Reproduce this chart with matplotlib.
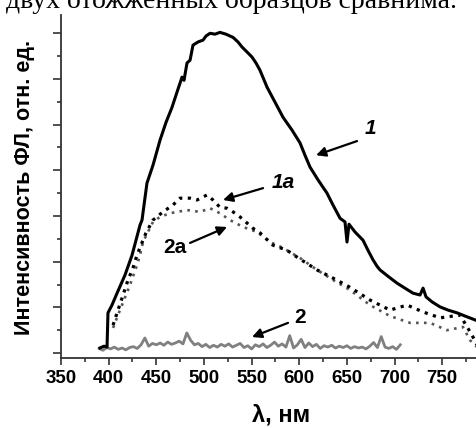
import numpy as np
import matplotlib
matplotlib.use("Agg")
import matplotlib.pyplot as plt
from matplotlib.ticker import MultipleLocator, NullFormatter

# curve 1 (black solid)
wl_1 = [390.9, 395.1, 398.3, 399.3, 403.5, 408.8, 417.2, 424.5, 432.9, 435.0,
        440.2, 446.5, 453.9, 460.2, 466.5, 471.7, 477.0, 479.1, 482.2, 485.4,
        488.5, 493.8, 499.0, 502.2, 506.4, 511.6, 516.8, 523.1, 530.5, 535.7,
        539.9, 545.2, 550.4, 554.6, 558.8, 566.2, 574.6, 583.0, 592.4, 600.8,
        606.0, 611.3, 619.7, 629.1, 635.4, 642.8, 648.0, 650.1, 652.2, 658.5,
        666.9, 672.1, 677.4, 681.6, 684.7, 693.1, 702.6, 710.9, 719.4, 726.7,
        729.9, 733.0, 739.3, 747.7, 756.1, 765.5, 773.9, 790.0]
int_1 = [0.11, 0.15, 0.13, 0.88, 1.05, 1.31, 1.71, 2.14, 2.80, 2.91,
         3.72, 4.11, 4.66, 5.05, 5.38, 5.71, 6.04, 5.97, 6.35, 6.41,
         6.74, 6.81, 6.85, 6.94, 7.00, 6.98, 7.02, 6.98, 6.91, 6.81,
         6.70, 6.59, 6.48, 6.35, 6.19, 5.82, 5.49, 5.16, 4.88, 4.60,
         4.33, 4.07, 3.79, 3.50, 3.24, 2.95, 2.87, 2.43, 2.82, 2.65,
         2.47, 2.25, 2.04, 1.90, 1.82, 1.68, 1.53, 1.42, 1.31, 1.27,
         1.42, 1.23, 1.12, 1.01, 0.94, 0.88, 0.81, 0.68]

# curve 1a (black dots)
wl_1a = [404.6, 409.8, 414.0, 420.3, 425.5, 429.7, 433.9, 439.2, 446.5, 457.0,
         467.5, 474.9, 485.4, 492.7, 503.2, 509.5, 516.8, 524.2, 530.5, 537.8,
         551.5, 558.8, 572.5, 587.1, 597.6, 618.6, 635.4, 653.2, 674.2, 695.2,
         713.1, 729.8, 747.7, 768.7, 781.3, 786.5]
int_1a = [0.61, 0.94, 1.20, 1.60, 1.86, 2.14, 2.36, 2.63, 2.91, 3.09,
          3.24, 3.39, 3.39, 3.35, 3.46, 3.35, 3.19, 3.17, 3.09, 2.98,
          2.73, 2.63, 2.36, 2.25, 2.10, 1.82, 1.64, 1.44, 1.16, 0.94,
          1.05, 0.90, 0.77, 0.83, 0.39, 0.18]

# curve 2a (grey dots)
wl_2a = [404.6, 409.8, 416.1, 422.4, 428.7, 432.9, 436.0, 446.5, 453.9, 464.4,
         482.2, 495.9, 506.3, 516.8, 527.3, 541.0, 555.7, 569.3, 582.9, 600.8,
         618.6, 635.4, 653.2, 674.2, 695.2, 716.2, 737.2, 755.0, 771.8, 779.2,
         786.5]
int_2a = [0.55, 0.83, 1.16, 1.49, 1.86, 2.14, 2.43, 2.87, 2.98, 3.06,
          3.13, 3.09, 3.17, 3.06, 2.91, 2.76, 2.65, 2.43, 2.30, 2.08,
          1.82, 1.60, 1.38, 1.05, 0.81, 0.66, 0.66, 0.50, 0.57, 0.28,
          0.13]

# curve 2 (grey solid, noise level)
wl_2 = np.arange(390, 707, 4)
int_2 = [0.10, 0.06, 0.12, 0.09, 0.13, 0.08, 0.11, 0.07, 0.12, 0.14,
         0.10, 0.18, 0.33, 0.15, 0.21, 0.18, 0.22, 0.17, 0.24, 0.19,
         0.22, 0.26, 0.20, 0.44, 0.28, 0.18, 0.21, 0.14, 0.19, 0.12,
         0.17, 0.13, 0.19, 0.15, 0.20, 0.13, 0.17, 0.21, 0.12, 0.16,
         0.09, 0.18, 0.14, 0.20, 0.12, 0.17, 0.24, 0.15, 0.20, 0.13,
         0.38, 0.11, 0.18, 0.30, 0.12, 0.22, 0.14, 0.19, 0.10, 0.16,
         0.13, 0.17, 0.11, 0.15, 0.12, 0.16, 0.10, 0.14, 0.11, 0.13,
         0.09, 0.15, 0.23, 0.12, 0.36, 0.13, 0.10, 0.14, 0.08, 0.18]

# labels: (text, x, y, arrow tail x, y, arrow head x, y)
labels = [("1", 674.2, 4.92, 660.6, 4.64, 617.6, 4.33, "italic"),
          ("1a", 582.9, 3.74, 562.0, 3.61, 520.0, 3.35, "italic"),
          ("2a", 469.6, 2.32, 485.4, 2.41, 524.2, 2.76, "normal"),
          ("2", 600.8, 0.77, 588.2, 0.66, 550.4, 0.35, "normal")]

W, H = 477, 428
fig = plt.figure(figsize=(W / 100, H / 100), dpi=100)
ax = fig.add_axes([61 / W, 1 - 357.5 / H, 1 - 61 / W, (357.5 - 15) / H])

ax.plot(wl_2, int_2, color="#808080", lw=2.0, zorder=2)
ax.plot(wl_2a, int_2a, color="#555555", lw=1.9, ls=(0, (1, 2.0)), zorder=3)
ax.plot(wl_1a, int_1a, color="black", lw=2.3, ls=(0, (1, 1.7)), zorder=3)
ax.plot(wl_1, int_1, color="black", lw=2.2, zorder=4)

for txt, tx, ty, ax0, ay0, ax1, ay1, st in labels:
    ax.text(tx, ty, txt, fontsize=15, fontweight="bold", style=st,
            family="Liberation Sans", ha="center", va="center")
    ax.annotate("", xy=(ax1, ay1), xytext=(ax0, ay0),
                arrowprops=dict(arrowstyle="-|>", lw=1.6, color="black",
                                mutation_scale=14, shrinkA=0, shrinkB=0))

ax.set_xlim(350, 786.5)
ax.set_ylim(-0.098, 7.40)
ax.spines["top"].set_visible(False)
ax.spines["right"].set_visible(False)
for s in ("left", "bottom"):
    ax.spines[s].set_linewidth(1.3)
    ax.spines[s].set_color("#333333")

ax.xaxis.set_major_locator(MultipleLocator(50))
ax.xaxis.set_minor_locator(MultipleLocator(25))
ax.yaxis.set_major_locator(MultipleLocator(1))
ax.yaxis.set_minor_locator(MultipleLocator(0.5))
ax.yaxis.set_major_formatter(NullFormatter())
ax.tick_params(axis="x", which="major", length=5, width=1.2, color="#333333", pad=4)
ax.tick_params(axis="x", which="minor", length=3, width=1.2, color="#333333")
ax.tick_params(axis="y", which="major", length=6, width=1.2, color="#333333")
ax.tick_params(axis="y", which="minor", length=3, width=1.2, color="#333333")
for lab in ax.get_xticklabels():
    lab.set_fontsize(13.5)
    lab.set_fontweight("bold")
    lab.set_family("Liberation Sans")

fig.text(25 / W, 1 - 187.5 / H, "Интенсивность ФЛ, отн. ед.", rotation=90,
         fontsize=15.5, fontweight="bold", family="Liberation Sans",
         ha="center", va="center")
fig.text(281 / W, 1 - 415 / H, "λ, нм", fontsize=17, fontweight="bold",
         family="Liberation Sans", ha="center", va="center")
fig.text(6 / W, 1 - 8 / H, "двух отожженных образцов сравнима.",
         fontsize=20, family="Liberation Serif", ha="left", va="baseline")

fig.savefig("out.png", dpi=100)
